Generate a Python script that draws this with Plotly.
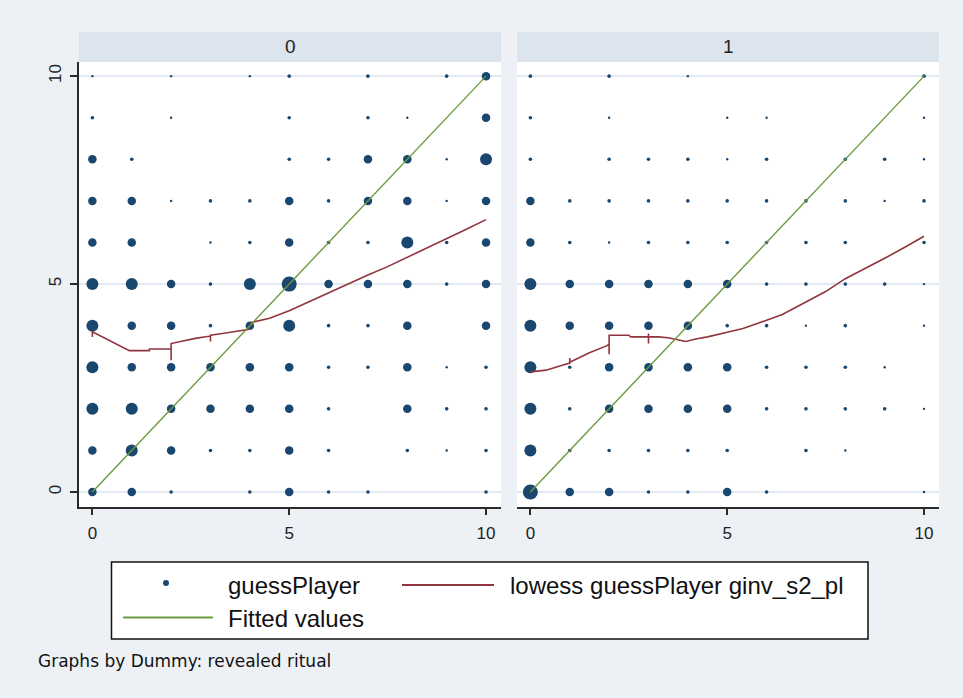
import plotly.graph_objects as go

W, H = 963, 698

# ---------------- data ----------------
x_cells = list(range(11))                 # ginv_s2_pl values (columns)
y_cells = list(range(10, -1, -1))         # guessPlayer values (rows, top to bottom)

# frequency class of observations at each cell (0 = none, 1..5 = increasing weight)
freq_dummy0 = [
    [1, 0, 1, 0, 1, 2, 0, 2, 0, 2, 3],   # y=10
    [2, 0, 1, 0, 0, 2, 0, 2, 1, 0, 3],   # y=9
    [3, 2, 0, 0, 0, 2, 2, 3, 3, 1, 4],   # y=8
    [3, 3, 1, 2, 2, 3, 2, 3, 3, 1, 3],   # y=7
    [3, 3, 0, 1, 2, 3, 2, 2, 4, 2, 3],   # y=6
    [4, 4, 3, 2, 4, 5, 3, 3, 3, 2, 3],   # y=5
    [4, 3, 3, 2, 3, 4, 2, 2, 3, 0, 3],   # y=4
    [4, 3, 3, 3, 3, 3, 2, 2, 3, 1, 2],   # y=3
    [4, 4, 3, 3, 3, 3, 2, 0, 3, 2, 2],   # y=2
    [3, 4, 3, 2, 2, 3, 2, 0, 2, 1, 2],   # y=1
    [3, 3, 2, 0, 2, 3, 2, 2, 0, 0, 2],   # y=0
]
freq_dummy1 = [
    [2, 0, 2, 0, 1, 0, 0, 0, 0, 0, 2],   # y=10
    [2, 0, 1, 0, 0, 1, 1, 0, 0, 0, 1],   # y=9
    [2, 0, 2, 2, 2, 1, 2, 0, 2, 2, 1],   # y=8
    [3, 2, 2, 2, 2, 2, 2, 2, 2, 1, 2],   # y=7
    [3, 2, 1, 2, 2, 2, 2, 2, 2, 0, 2],   # y=6
    [4, 3, 3, 3, 3, 3, 2, 2, 2, 2, 1],   # y=5
    [4, 3, 3, 3, 3, 2, 2, 1, 2, 0, 1],   # y=4
    [4, 2, 3, 3, 3, 3, 2, 2, 2, 1, 0],   # y=3
    [4, 2, 3, 3, 3, 3, 2, 2, 2, 2, 1],   # y=2
    [4, 2, 2, 2, 2, 2, 0, 2, 1, 0, 0],   # y=1
    [5, 3, 3, 2, 2, 3, 2, 0, 0, 0, 1],   # y=0
]

lowess0_x = [0, 0, 0.94, 1.45, 1.45, 2.0, 2.0, 2.0, 2.3, 2.65, 3.0, 3.0, 3.0, 3.3, 3.6,
             3.95, 4.05, 4.5, 5.0, 5.5, 6.0, 6.5, 7.0, 7.5, 8.0, 8.5, 9.0, 9.5, 10.0]
lowess0_y = [3.73, 3.85, 3.40, 3.40, 3.44, 3.44, 3.17, 3.57, 3.63, 3.70, 3.75, 3.62, 3.77, 3.81, 3.86,
             3.91, 4.08, 4.18, 4.36, 4.58, 4.80, 5.01, 5.22, 5.42, 5.64, 5.87, 6.09, 6.32, 6.55]

lowess1_x = [0, 0.4, 0.85, 1.0, 1.0, 1.0, 1.5, 1.95, 2.0, 2.0, 2.0, 2.5, 2.55, 3.0, 3.0, 3.0, 3.0,
             3.25, 3.5, 3.8, 3.95, 4.2, 4.5, 5.0, 5.4, 6.0, 6.4, 7.0, 7.5, 8.0, 8.5, 9.0, 9.5, 10.0]
lowess1_y = [2.89, 2.93, 3.06, 3.10, 3.22, 3.12, 3.35, 3.52, 3.56, 3.31, 3.77, 3.77, 3.73, 3.73, 3.81, 3.57, 3.73,
             3.73, 3.71, 3.65, 3.62, 3.68, 3.73, 3.84, 3.93, 4.13, 4.27, 4.57, 4.82, 5.13, 5.37, 5.62, 5.88, 6.15]

fit0_x = [0, 10]
fit0_y = [0, 10]
fit1_x = [0, 10]
fit1_y = [0, 10]

panel_labels = ["0", "1"]
tick_vals = [0, 5, 10]
legend_labels = ["guessPlayer", "lowess guessPlayer ginv_s2_pl", "Fitted values"]
caption = "Graphs by Dummy: revealed ritual"

# ---------------- style ----------------
NAVY = "#1A476F"
MAROON = "#90353B"
GREEN = "#6A9A3E"
BG = "#EDF1F6"
STRIP = "#DCE4EE"
GRID = "#E4EAF1"
AX = "#2a2a2a"
size_px = {1: 2.4, 2: 3.6, 3: 8.5, 4: 12, 5: 15}


def px_x(v):
    return v / W


def px_y(v):
    return 1 - v / H


def cells(freq):
    xs, ys, ss = [], [], []
    for r, yv in enumerate(y_cells):
        for c, xv in enumerate(x_cells):
            k = freq[r][c]
            if k > 0:
                xs.append(xv)
                ys.append(yv)
                ss.append(size_px[k])
    return xs, ys, ss


fig = go.Figure()
panels = [
    (freq_dummy0, lowess0_x, lowess0_y, fit0_x, fit0_y, "x", "y"),
    (freq_dummy1, lowess1_x, lowess1_y, fit1_x, fit1_y, "x2", "y2"),
]
for freq, lx, ly, fx, fy, xa, ya in panels:
    xs, ys, ss = cells(freq)
    fig.add_trace(go.Scatter(x=xs, y=ys, mode="markers", xaxis=xa, yaxis=ya,
                             marker=dict(color=NAVY, size=ss, opacity=1, line=dict(width=0)),
                             showlegend=False, hoverinfo="skip"))
    fig.add_trace(go.Scatter(x=lx, y=ly, mode="lines", xaxis=xa, yaxis=ya,
                             line=dict(color=MAROON, width=1.6),
                             showlegend=False, hoverinfo="skip"))
    fig.add_trace(go.Scatter(x=fx, y=fy, mode="lines", xaxis=xa, yaxis=ya,
                             line=dict(color=GREEN, width=1.4),
                             showlegend=False, hoverinfo="skip"))

xr = [-0.34, 10.38]
yr = [-0.36, 10.34]
ydom = [px_y(507), px_y(62)]
tickfont = dict(family="Liberation Sans, Arial", size=17, color="#222")

common_x = dict(range=xr, tickvals=tick_vals, showgrid=False, zeroline=False,
                showline=True, linecolor=AX, linewidth=2, ticks="outside",
                ticklen=6, tickwidth=1.5, tickcolor=AX, tickfont=tickfont,
                ticklabelstandoff=4, fixedrange=True)

fig.update_layout(
    width=W, height=H, autosize=False,
    margin=dict(l=0, r=0, t=0, b=0),
    paper_bgcolor=BG, plot_bgcolor="white",
    showlegend=False,
    xaxis=dict(domain=[px_x(79), px_x(501)], anchor="y", **common_x),
    xaxis2=dict(domain=[px_x(517), px_x(939)], anchor="y2", **common_x),
    yaxis=dict(domain=ydom, anchor="x", range=yr, tickvals=tick_vals,
               showgrid=True, gridcolor=GRID, gridwidth=1.5, zeroline=False,
               showline=True, linecolor=AX, linewidth=2, ticks="outside",
               ticklen=7, tickwidth=1.5, tickcolor=AX, tickangle=-90,
               tickfont=tickfont, ticklabelstandoff=2, fixedrange=True),
    yaxis2=dict(domain=ydom, anchor="x2", range=yr, tickvals=tick_vals,
                showgrid=True, gridcolor=GRID, gridwidth=1.5, zeroline=False,
                showline=False, ticks="", showticklabels=False, fixedrange=True),
)

shapes = []
annotations = []
# strips
for (x0, x1), lab in zip([(79, 501), (517, 939)], panel_labels):
    shapes.append(dict(type="rect", xref="paper", yref="paper",
                       x0=px_x(x0), x1=px_x(x1), y0=px_y(62), y1=px_y(32),
                       fillcolor=STRIP, line=dict(width=0), layer="below"))
    annotations.append(dict(xref="paper", yref="paper", x=px_x((x0 + x1) / 2), y=px_y(47),
                            text=lab, showarrow=False, xanchor="center", yanchor="middle",
                            font=dict(family="Liberation Sans, Arial", size=19, color="#222")))

# legend box
shapes.append(dict(type="rect", xref="paper", yref="paper",
                   x0=px_x(111.5), x1=px_x(868), y0=px_y(639), y1=px_y(562),
                   fillcolor="white", line=dict(color="#111", width=1.5)))
shapes.append(dict(type="circle", xref="paper", yref="paper",
                   x0=px_x(163), x1=px_x(169), y0=px_y(586), y1=px_y(580),
                   fillcolor=NAVY, line=dict(width=0)))
shapes.append(dict(type="line", xref="paper", yref="paper",
                   x0=px_x(402), x1=px_x(494), y0=px_y(585), y1=px_y(585),
                   line=dict(color=MAROON, width=1.8)))
shapes.append(dict(type="line", xref="paper", yref="paper",
                   x0=px_x(123), x1=px_x(213), y0=px_y(617.5), y1=px_y(617.5),
                   line=dict(color=GREEN, width=1.8)))
lfont = dict(family="Liberation Sans, Arial", size=24, color="#111")
for txt, xp, yp in [(legend_labels[0], 226, 585), (legend_labels[1], 508, 585),
                    (legend_labels[2], 226, 618)]:
    annotations.append(dict(xref="paper", yref="paper", x=px_x(xp), y=px_y(yp), text=txt,
                            showarrow=False, xanchor="left", yanchor="middle", font=lfont))
annotations.append(dict(xref="paper", yref="paper", x=px_x(36), y=px_y(661), text=caption,
                        showarrow=False, xanchor="left", yanchor="middle",
                        font=dict(family="DejaVu Sans", size=17, color="#111")))

fig.update_layout(shapes=shapes, annotations=annotations)
fig.write_html("out.html")
